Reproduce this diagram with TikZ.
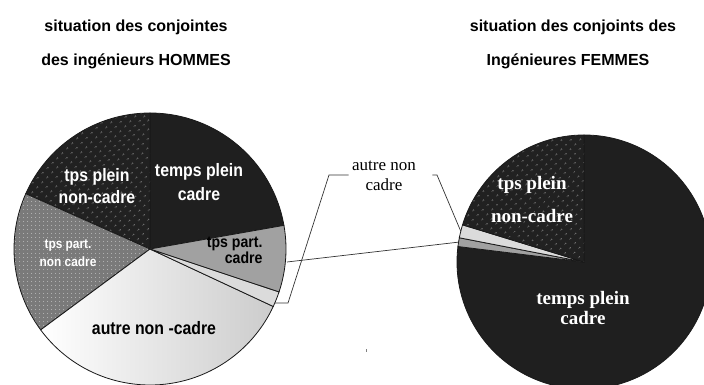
\documentclass[tikz,border=0pt]{standalone}
\usepackage{fontspec}
\setmainfont{Liberation Sans}
\newfontfamily\timesfont{Liberation Serif}
\newfontfamily\narrowfont[FakeStretch=0.88]{Liberation Sans Bold}
\usetikzlibrary{patterns.meta}

\begin{document}
\begin{tikzpicture}[x=1pt, y=1pt,
    slice/.style={draw=black!90, line width=0.8pt},
    fullcadre/.style={slice, fill=black!88},
    fullnon/.style={slice, preaction={fill=black!87}, pattern color=white!80!black, pattern={Dots[distance=6.5pt, radius=0.6pt, angle=45]}},
    partnon/.style={slice, preaction={fill=black!52}, pattern color=white!85!black, pattern={Dots[distance=4pt, radius=0.55pt]}},
    partcadre/.style={slice, fill=black!37},
    autresmall/.style={slice, fill=black!14},
    autrebig/.style={slice, left color=white, right color=black!20},
    leader/.style={draw=black!80, line width=0.7pt},
    title/.style={font=\fontsize{16}{16}\selectfont\bfseries},
    lwhite/.style={text=white, align=center},
    lblack/.style={text=black, align=center},
    rwhite/.style={text=white, align=center, font=\timesfont\bfseries\fontsize{19}{20}\selectfont}
  ]
  \useasboundingbox (0,0) rectangle (704,385);
  \clip (0,0) rectangle (704,385);

  \node[title] (ltitle1) at (136,358) {situation des conjointes};
  \node[title] (ltitle2) at (136,324) {des ingénieurs HOMMES};
  \node[title] (rtitle1) at (573,358) {situation des conjoints des};
  \node[title] (rtitle2) at (568,324) {Ingénieures FEMMES};

  \coordinate (lpie) at (150,136);
  \coordinate (rpie) at (584,123);

  \draw[fullcadre] (lpie) -- ++(10:136) arc[start angle=10, end angle=90, radius=136] -- cycle;
  \draw[fullnon] (lpie) -- ++(90:136) arc[start angle=90, end angle=156, radius=136] -- cycle;
  \draw[partnon] (lpie) -- ++(156:136) arc[start angle=156, end angle=216.5, radius=136] -- cycle;
  \draw[autrebig] (lpie) -- ++(216.5:136) arc[start angle=216.5, end angle=335, radius=136] -- cycle;
  \draw[autresmall] (lpie) -- ++(335:136) arc[start angle=335, end angle=341.6, radius=136] -- cycle;
  \draw[partcadre] (lpie) -- ++(341.6:136) arc[start angle=341.6, end angle=370, radius=136] -- cycle;

  \draw[fullcadre] (rpie) -- ++(90:127) arc[start angle=90, end angle=-187, radius=127] -- cycle;
  \draw[partcadre] (rpie) -- ++(169:127) arc[start angle=169, end angle=173, radius=127] -- cycle;
  \draw[autresmall] (rpie) -- ++(163:127) arc[start angle=163, end angle=169, radius=127] -- cycle;
  \draw[fullnon] (rpie) -- ++(90:127) arc[start angle=90, end angle=163, radius=127] -- cycle;

  \node[lwhite, font=\narrowfont\fontsize{18}{24}\selectfont] (lcadre) at (199,203) {temps plein\\cadre};
  \node[lwhite, font=\narrowfont\fontsize{18}{22}\selectfont] (lnon) at (97,199) {tps plein\\non-cadre};
  \node[lwhite, font=\narrowfont\fontsize{13.5}{18}\selectfont] (lpartnon) at (68,132) {tps part.\\non cadre};
  \node[lblack, align=right, font=\narrowfont\fontsize{16}{14}\selectfont, anchor=east] (lpartcadre) at (266,135) {tps part.\\cadre};
  \node[lblack, font=\narrowfont\fontsize{18}{18}\selectfont] (lautre) at (154,57) {autre non -cadre};

  \node[rwhite, font=\timesfont\bfseries\fontsize{19}{33}\selectfont] (rnon) at (532,185) {tps plein\\non-cadre};
  \node[rwhite] (rcadre) at (583,77) {temps plein\\cadre};

  \node[align=center, font=\timesfont\fontsize{17}{20}\selectfont] (autre) at (384,209) {autre non\\cadre};

  \coordinate (lsmall) at ([shift={(-23.4:136)}]lpie);
  \coordinate (rsmall) at ([shift={(166:127)}]rpie);
  \coordinate (rgrey) at ([shift={(171:127)}]rpie);
  \coordinate (lbend) at (288,82);
  \coordinate (ltop) at (329,210);
  \coordinate (rtop) at (437,210);
  \coordinate (lgrey) at (287,123);

  \draw[leader] (lsmall) -- (lbend) -- (ltop) -- (autre.west |- ltop);
  \draw[leader] ([xshift=13pt]autre.east |- rtop) -- (rtop) -- (rsmall);
  \draw[leader] (lgrey) -- (rgrey);

  \fill[black!50] (365.5,33) rectangle (366.5,36);
\end{tikzpicture}
\end{document}
